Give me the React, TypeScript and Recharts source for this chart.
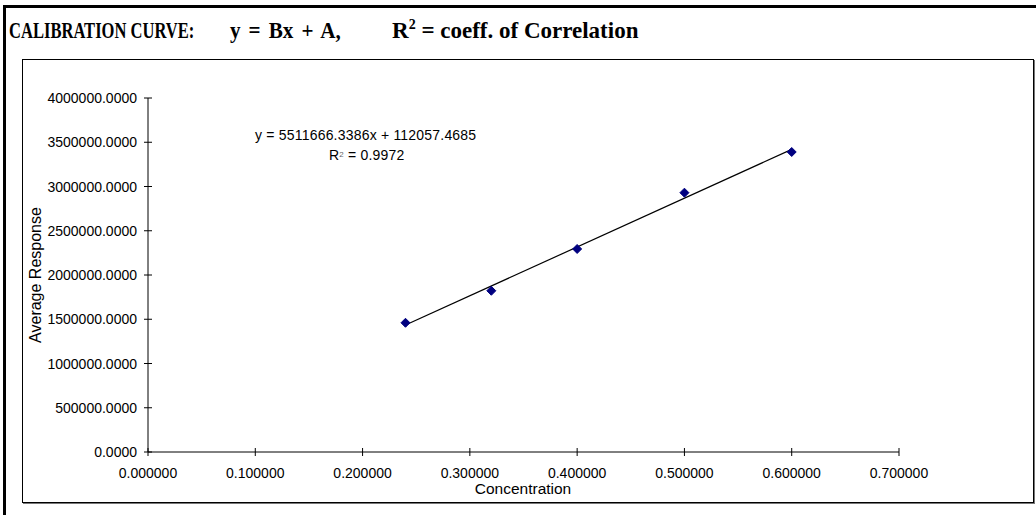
import React from 'react';
import { ScatterChart, Scatter, XAxis, YAxis } from 'recharts';

const concentration = [0.24, 0.32, 0.4, 0.5, 0.6];
const avgResponse = [1460000, 1822000, 2294000, 2930000, 3390000];
const trendX = [0.24, 0.6];
const trendY = [1434897, 3419057];
const xTicks = [0, 0.1, 0.2, 0.3, 0.4, 0.5, 0.6, 0.7];
const yTicks = [0, 500000, 1000000, 1500000, 2000000, 2500000, 3000000, 3500000, 4000000];
const titleMain = 'CALIBRATION CURVE:';
const titleEq = 'y = Bx + A,';
const titleR = 'R';
const titleRest = ' = coeff. of Correlation';
const eqLine = 'y = 5511666.3386x + 112057.4685';
const r2Value = ' = 0.9972';

const points = concentration.map((c, i) => ({ x: c, y: avgResponse[i] }));
const trend = trendX.map((c, i) => ({ x: c, y: trendY[i] }));

const FONT = "Arial, 'Liberation Sans', sans-serif";
const SERIF = "'Liberation Serif', 'Times New Roman', serif";

const YTick = (props: any) => {
  const { x, y, payload } = props;
  return (
    <g>
      <line x1={x - 4} x2={x + 4} y1={y} y2={y} stroke="#000" strokeWidth={1} />
      <text x={x - 11} y={y} dy="0.36em" textAnchor="end" fontSize={14} fontFamily={FONT} fill="#000">
        {Number(payload.value).toFixed(4)}
      </text>
    </g>
  );
};

const XTick = (props: any) => {
  const { x, y, payload } = props;
  return (
    <g>
      <line x1={x} x2={x} y1={y - 4} y2={y + 4} stroke="#000" strokeWidth={1} />
      <text x={x} y={y + 26} textAnchor="middle" fontSize={14} fontFamily={FONT} fill="#000">
        {Number(payload.value).toFixed(6)}
      </text>
    </g>
  );
};

const Diamond = (props: any) => {
  const { cx, cy } = props;
  const r = 4.5;
  return (
    <polygon
      points={`${cx},${cy - r} ${cx + r},${cy} ${cx},${cy + r} ${cx - r},${cy}`}
      fill="#000080"
      stroke="#000080"
    />
  );
};

const NoShape = () => <g />;

export default function App() {
  return (
    <div style={{ position: 'absolute', left: 0, top: 0, width: 1036, height: 515, background: '#fff', overflow: 'hidden' }}>
      {/* outer thick border */}
      <div style={{ position: 'absolute', left: 3, top: 5, width: 1033, height: 3, background: '#000' }} />
      <div style={{ position: 'absolute', left: 3, top: 5, width: 3, height: 510, background: '#000' }} />
      {/* title */}
      <svg style={{ position: 'absolute', left: 0, top: 0 }} width={1036} height={58}>
        <g transform="translate(9,38) scale(0.72,1)">
          <text x={0} y={0} fontFamily={SERIF} fontWeight="bold" fontSize={23} fill="#000">
            {titleMain}
          </text>
        </g>
        <g transform="translate(230,38) scale(0.92,1)">
          <text x={0} y={0} fontFamily={SERIF} fontWeight="bold" fontSize={23} fill="#000" wordSpacing={3}>
            {titleEq}
          </text>
        </g>
        <g transform="translate(392,38) scale(1,1)">
          <text x={0} y={0} fontFamily={SERIF} fontWeight="bold" fontSize={23} fill="#000">
            {titleR}
            <tspan fontSize={14} dy={-9}>2</tspan>
            <tspan dy={9}>{titleRest}</tspan>
          </text>
        </g>
      </svg>
      {/* inner frame */}
      <div style={{ position: 'absolute', left: 22, top: 59, width: 1010, height: 442, border: '1px solid #000', boxShadow: '1px 1px 0 #777' }} />
      <div style={{ position: 'absolute', left: 0, top: 0 }}>
        <ScatterChart width={1036} height={515} margin={{ top: 98, right: 137, left: 48, bottom: 23 }}>
          <XAxis
            type="number"
            dataKey="x"
            domain={[0, 0.7]}
            ticks={xTicks}
            tick={<XTick />}
            tickLine={false}
            tickSize={0}
            tickMargin={0}
            height={40}
            axisLine={{ stroke: '#000', strokeWidth: 1 }}
            interval={0}
            allowDataOverflow
          />
          <YAxis
            type="number"
            dataKey="y"
            domain={[0, 4000000]}
            ticks={yTicks}
            tick={<YTick />}
            tickLine={false}
            tickSize={0}
            tickMargin={0}
            width={100}
            axisLine={{ stroke: '#000', strokeWidth: 1 }}
            interval={0}
            allowDataOverflow
          />
          <Scatter data={trend} line={{ stroke: '#000', strokeWidth: 1.2 }} shape={<NoShape />} isAnimationActive={false} />
          <Scatter data={points} shape={<Diamond />} isAnimationActive={false} />
        </ScatterChart>
      </div>
      {/* axis titles */}
      <div
        style={{
          position: 'absolute',
          left: 36,
          top: 275,
          transform: 'translate(-50%, -50%) rotate(-90deg)',
          fontFamily: FONT,
          fontSize: 16,
          whiteSpace: 'nowrap',
          color: '#000',
        }}
      >
        Average Response
      </div>
      <svg style={{ position: 'absolute', left: 0, top: 470 }} width={1036} height={40}>
        <text x={523} y={24} textAnchor="middle" fontFamily={FONT} fontSize={15.5} fill="#000">
          Concentration
        </text>
      </svg>
      {/* trendline equation */}
      <div style={{ position: 'absolute', left: 255, top: 126, fontFamily: FONT, fontSize: 14, letterSpacing: 0.2, whiteSpace: 'nowrap', lineHeight: '18px' }}>
        {eqLine}
      </div>
      <div style={{ position: 'absolute', left: 329, top: 146, fontFamily: FONT, fontSize: 14, letterSpacing: 0.2, whiteSpace: 'nowrap', lineHeight: '18px' }}>
        R<sup style={{ fontSize: 8, verticalAlign: 'top', color: '#666' }}>2</sup>
        {r2Value}
      </div>
    </div>
  );
}
